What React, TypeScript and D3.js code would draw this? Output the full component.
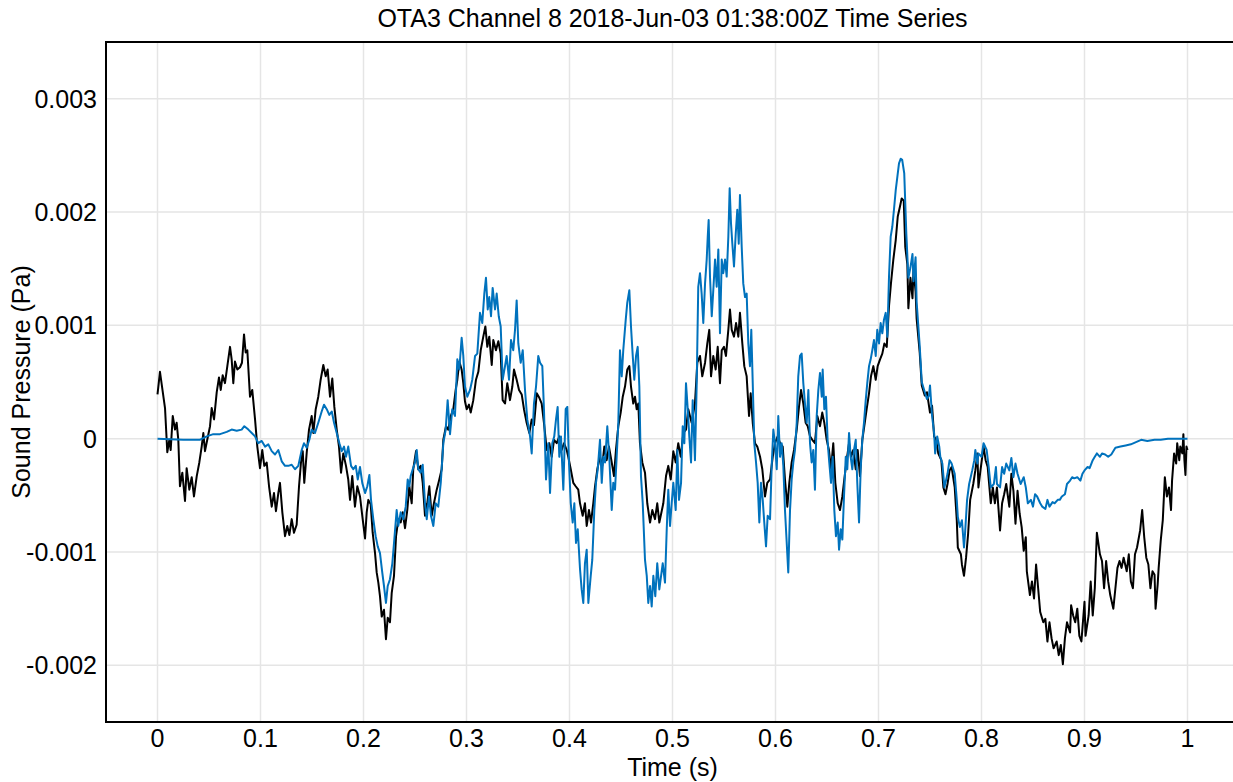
import React from "react";
import * as d3 from "d3";

// Hydrophone record: time (s) and sound pressure (mPa) vertices
const rawPressureMilliPa: [number, number][] = [
  [0.0, 0.39], [0.0024, 0.59], [0.005, 0.42], [0.0073, 0.27], [0.0095, -0.12], [0.0115, -0.01], [0.0128, -0.1],
  [0.0148, 0.2], [0.017, 0.08], [0.0186, 0.14], [0.0202, -0.01], [0.0218, -0.42], [0.0241, -0.3], [0.0267, -0.55],
  [0.0283, -0.26], [0.0309, -0.45], [0.0332, -0.34], [0.0354, -0.51], [0.0381, -0.33], [0.0406, -0.21], [0.0429, -0.07],
  [0.0445, 0.05], [0.0461, -0.11], [0.0483, -0.01], [0.051, 0.11], [0.0526, 0.27], [0.0549, 0.17], [0.0575, 0.41],
  [0.0597, 0.54], [0.0614, 0.43], [0.0633, 0.56], [0.0655, 0.49], [0.0678, 0.64], [0.0704, 0.81], [0.072, 0.7],
  [0.0736, 0.49], [0.0752, 0.68], [0.0775, 0.61], [0.0801, 0.63], [0.082, 0.67], [0.084, 0.92], [0.0856, 0.76],
  [0.0872, 0.78], [0.0898, 0.37], [0.092, 0.43], [0.0947, 0.17], [0.0969, -0.07], [0.0995, -0.26], [0.1017, -0.1],
  [0.1037, -0.24], [0.106, -0.21], [0.1083, -0.42], [0.1109, -0.6], [0.1131, -0.48], [0.115, -0.64], [0.1173, -0.48],
  [0.1189, -0.39], [0.1212, -0.65], [0.1238, -0.86], [0.126, -0.77], [0.128, -0.85], [0.1303, -0.71], [0.1325, -0.83],
  [0.1351, -0.76], [0.1374, -0.42], [0.1393, -0.21], [0.141, -0.11], [0.1425, -0.39], [0.1449, -0.12], [0.1471, 0.08],
  [0.1497, 0.2], [0.1513, 0.05], [0.1536, 0.26], [0.1561, 0.37], [0.1584, 0.52], [0.161, 0.65], [0.1633, 0.55],
  [0.1652, 0.61], [0.1675, 0.37], [0.1697, 0.53], [0.1717, 0.28], [0.174, 0.08], [0.1762, -0.07], [0.1782, -0.3],
  [0.1804, -0.13], [0.183, -0.24], [0.1852, -0.36], [0.1869, -0.54], [0.1891, -0.33], [0.1917, -0.6], [0.194, -0.42],
  [0.1966, -0.51], [0.1992, -0.71], [0.2015, -0.88], [0.2031, -0.65], [0.2047, -0.54], [0.207, -0.58], [0.2089, -0.83],
  [0.2112, -1.01], [0.2128, -1.18], [0.2144, -1.27], [0.216, -1.39], [0.2177, -1.57], [0.2199, -1.51], [0.2218, -1.77],
  [0.2235, -1.58], [0.2257, -1.62], [0.2274, -1.36], [0.2296, -1.21], [0.2316, -0.86], [0.2338, -0.71], [0.2361, -0.74],
  [0.2381, -0.65], [0.2403, -0.79], [0.2425, -0.63], [0.2445, -0.42], [0.2468, -0.57], [0.2483, -0.27], [0.251, -0.11],
  [0.2532, -0.27], [0.2555, -0.24], [0.2575, -0.39], [0.2597, -0.68], [0.2619, -0.57], [0.2639, -0.42], [0.2662, -0.68],
  [0.2684, -0.57], [0.2711, -0.45], [0.2736, -0.36], [0.2759, -0.27], [0.2775, -0.01], [0.2801, 0.11], [0.2823, 0.08],
  [0.2847, 0.2], [0.2872, 0.26], [0.2895, 0.43], [0.2911, 0.52], [0.293, 0.68], [0.2953, 0.61], [0.2969, 0.49],
  [0.2985, 0.33], [0.3002, 0.26], [0.3024, 0.3], [0.3041, 0.23], [0.3066, 0.34], [0.3092, 0.52], [0.3115, 0.59],
  [0.3138, 0.78], [0.3163, 0.9], [0.3183, 0.99], [0.3202, 0.81], [0.3221, 0.9], [0.3245, 0.65], [0.326, 0.87],
  [0.3286, 0.78], [0.3309, 0.86], [0.3332, 0.75], [0.3351, 0.34], [0.3374, 0.31], [0.3396, 0.49], [0.3422, 0.34],
  [0.3445, 0.46], [0.3461, 0.61], [0.3487, 0.52], [0.351, 0.43], [0.3536, 0.39], [0.3558, 0.26], [0.3584, 0.14],
  [0.361, 0.05], [0.3633, 0.17], [0.3655, 0.12], [0.3682, 0.4], [0.3707, 0.36], [0.373, 0.31], [0.3752, 0.14],
  [0.3779, -0.1], [0.3804, -0.04], [0.3827, -0.16], [0.385, -0.01], [0.3876, -0.04], [0.3901, 0.02], [0.3924, -0.1],
  [0.3947, -0.04], [0.3973, -0.1], [0.3988, -0.16], [0.4012, -0.27], [0.4037, -0.39], [0.406, -0.42], [0.4085, -0.45],
  [0.4102, -0.57], [0.4128, -0.68], [0.415, -0.57], [0.4167, -0.77], [0.4189, -0.63], [0.4209, -0.74], [0.4231, -0.57],
  [0.4248, -0.42], [0.427, -0.27], [0.4296, -0.16], [0.4318, -0.24], [0.4338, -0.07], [0.4361, -0.19], [0.4383, -0.07],
  [0.441, -0.21], [0.4432, -0.33], [0.4451, -0.1], [0.4474, 0.11], [0.4497, 0.23], [0.4517, 0.37], [0.4539, 0.46],
  [0.4561, 0.61], [0.4581, 0.64], [0.4597, 0.46], [0.4619, 0.31], [0.4636, 0.37], [0.4652, 0.26], [0.4668, 0.31],
  [0.4684, -0.04], [0.4707, -0.21], [0.4733, -0.3], [0.4755, -0.57], [0.4782, -0.74], [0.4804, -0.63], [0.483, -0.71],
  [0.4852, -0.57], [0.4872, -0.74], [0.4911, -0.57], [0.4937, -0.33], [0.4959, -0.24], [0.4983, -0.36], [0.5008, -0.11],
  [0.5031, -0.21], [0.5056, -0.04], [0.508, -0.16], [0.5105, 0.05], [0.5131, 0.08], [0.5153, 0.26], [0.5186, 0.14],
  [0.5218, 0.31], [0.5241, 0.67], [0.5267, 0.73], [0.5289, 0.55], [0.5316, 0.67], [0.5338, 0.84], [0.5357, 0.96],
  [0.5374, 0.55], [0.5396, 0.73], [0.5419, 0.61], [0.5439, 0.81], [0.5461, 0.49], [0.5478, 0.78], [0.55, 0.81],
  [0.5519, 0.73], [0.5542, 0.96], [0.5558, 1.14], [0.5575, 0.96], [0.5597, 0.9], [0.5617, 1.02], [0.5639, 0.9],
  [0.5655, 1.11], [0.5678, 0.84], [0.5697, 0.64], [0.572, 0.55], [0.5743, 0.2], [0.5759, 0.4], [0.5779, 0.14],
  [0.5801, -0.04], [0.5823, -0.07], [0.585, -0.16], [0.5872, -0.27], [0.5898, -0.51], [0.592, -0.39], [0.5947, -0.36],
  [0.5973, -0.16], [0.5995, -0.04], [0.6021, 0.02], [0.6044, -0.04], [0.607, -0.07], [0.6092, -0.36], [0.6115, -0.6],
  [0.6134, -0.39], [0.6157, -0.21], [0.618, -0.1], [0.6206, 0.08], [0.6228, 0.28], [0.6248, 0.43], [0.627, 0.31],
  [0.6293, 0.14], [0.6313, 0.11], [0.6335, 0.02], [0.6357, -0.01], [0.6383, -0.04], [0.6406, 0.2], [0.6432, 0.11],
  [0.6454, 0.23], [0.6474, 0.14], [0.6497, -0.01], [0.6519, -0.1], [0.6539, -0.27], [0.6561, -0.04], [0.6581, -0.39],
  [0.6604, -0.57], [0.6626, -0.63], [0.6649, -0.51], [0.6668, -0.36], [0.6691, -0.19], [0.6714, -0.04], [0.6733, -0.16],
  [0.6755, -0.1], [0.6779, -0.27], [0.6798, -0.1], [0.682, -0.33], [0.6843, -0.01], [0.6862, 0.11], [0.6885, 0.26],
  [0.6908, 0.4], [0.6927, 0.55], [0.695, 0.64], [0.6973, 0.52], [0.6992, 0.64], [0.7015, 0.7], [0.7037, 0.75],
  [0.7057, 0.84], [0.708, 0.81], [0.7102, 1.17], [0.7121, 1.37], [0.7144, 1.58], [0.7167, 1.75], [0.7187, 1.96],
  [0.7209, 2.05], [0.7225, 2.12], [0.7245, 2.1], [0.726, 1.69], [0.728, 1.54], [0.729, 1.15], [0.731, 1.42],
  [0.733, 1.24], [0.734, 1.5], [0.736, 1.3], [0.737, 1.06], [0.74, 0.76], [0.742, 0.47], [0.745, 0.38], [0.747, 0.41],
  [0.75, 0.23], [0.752, 0.29], [0.754, 0.02], [0.756, -0.01], [0.758, -0.13], [0.761, -0.19], [0.763, -0.43],
  [0.765, -0.49], [0.767, -0.4], [0.769, -0.28], [0.771, -0.25], [0.774, -0.43], [0.776, -0.72], [0.777, -0.96],
  [0.78, -1.02], [0.781, -1.11], [0.783, -1.21], [0.785, -1.05], [0.787, -0.84], [0.789, -0.54], [0.792, -0.4],
  [0.794, -0.28], [0.796, -0.13], [0.797, -0.43], [0.799, -0.28], [0.802, -0.07], [0.804, -0.19], [0.806, -0.25],
  [0.809, -0.57], [0.811, -0.43], [0.813, -0.57], [0.815, -0.43], [0.818, -0.81], [0.82, -0.57], [0.822, -0.49],
  [0.824, -0.4], [0.827, -0.6], [0.829, -0.31], [0.831, -0.46], [0.833, -0.75], [0.835, -0.46], [0.837, -0.66],
  [0.839, -0.78], [0.841, -0.99], [0.843, -0.87], [0.844, -1.17], [0.847, -1.38], [0.849, -1.26], [0.851, -1.41],
  [0.853, -1.11], [0.855, -1.32], [0.857, -1.53], [0.86, -1.62], [0.862, -1.59], [0.864, -1.79], [0.866, -1.62],
  [0.868, -1.76], [0.87, -1.85], [0.873, -1.79], [0.875, -1.91], [0.877, -1.82], [0.879, -1.99], [0.881, -1.76],
  [0.883, -1.62], [0.886, -1.71], [0.887, -1.47], [0.889, -1.56], [0.891, -1.62], [0.893, -1.5], [0.895, -1.74],
  [0.897, -1.79], [0.9, -1.44], [0.901, -1.74], [0.904, -1.56], [0.906, -1.26], [0.908, -1.56], [0.91, -1.32],
  [0.912, -0.83], [0.915, -1.02], [0.917, -1.08], [0.919, -1.32], [0.921, -1.08], [0.923, -1.26], [0.925, -1.38],
  [0.928, -1.5], [0.93, -1.32], [0.932, -1.14], [0.934, -1.08], [0.936, -1.14], [0.938, -1.05], [0.941, -1.17],
  [0.943, -1.02], [0.945, -1.26], [0.947, -1.32], [0.949, -1.02], [0.951, -0.96], [0.954, -0.81], [0.956, -0.63],
  [0.958, -0.87], [0.96, -1.05], [0.962, -1.11], [0.964, -1.32], [0.966, -1.17], [0.968, -1.2], [0.969, -1.5],
  [0.971, -1.29], [0.972, -1.14], [0.974, -0.9], [0.976, -0.72], [0.978, -0.34], [0.98, -0.51], [0.982, -0.43],
  [0.984, -0.63], [0.985, -0.37], [0.987, -0.13], [0.989, -0.22], [0.99, -0.04], [0.992, -0.19], [0.993, -0.07],
  [0.995, -0.13], [0.996, 0.04], [0.997, -0.19], [0.998, -0.32], [0.999, -0.07], [1.0, -0.1],
];

const filteredPressureMilliPa: [number, number][] = [
  [0.0, 0.0], [0.025, -0.01], [0.041, -0.01], [0.0478, 0.02], [0.0542, 0.04], [0.0607, 0.04], [0.0672, 0.06],
  [0.072, 0.08], [0.0769, 0.07], [0.0817, 0.08], [0.0843, 0.11], [0.0882, 0.08], [0.0915, 0.05], [0.0947, 0.02],
  [0.0979, -0.04], [0.1012, -0.02], [0.1044, -0.07], [0.1076, -0.05], [0.1109, -0.11], [0.1141, -0.14], [0.1173, -0.1],
  [0.1206, -0.2], [0.1238, -0.24], [0.127, -0.24], [0.1303, -0.23], [0.1335, -0.27], [0.1367, -0.24], [0.14, -0.1],
  [0.1422, -0.04], [0.1449, -0.08], [0.1474, -0.01], [0.1497, 0.08], [0.1529, 0.05], [0.1561, 0.14], [0.1594, 0.24],
  [0.1617, 0.3], [0.1643, 0.26], [0.1668, 0.21], [0.1692, 0.24], [0.1714, 0.14], [0.174, 0.05], [0.1766, -0.04],
  [0.1789, -0.11], [0.1811, -0.07], [0.183, -0.16], [0.1852, -0.07], [0.1879, -0.24], [0.1901, -0.27], [0.1925, -0.24],
  [0.1944, -0.36], [0.1966, -0.25], [0.1988, -0.39], [0.2015, -0.48], [0.2037, -0.42], [0.2057, -0.32], [0.2073, -0.54],
  [0.2095, -0.71], [0.2118, -0.86], [0.2138, -0.95], [0.216, -1.01], [0.2182, -1.18], [0.2199, -1.3], [0.2218, -1.45],
  [0.2235, -1.3], [0.2257, -1.24], [0.228, -1.1], [0.2299, -0.89], [0.2322, -0.63], [0.2338, -0.77], [0.2361, -0.65],
  [0.2386, -0.71], [0.241, -0.6], [0.2429, -0.36], [0.2445, -0.42], [0.2458, -0.33], [0.2478, -0.27], [0.25, -0.21],
  [0.2517, -0.1], [0.2532, -0.27], [0.2555, -0.3], [0.2575, -0.23], [0.2597, -0.57], [0.2614, -0.71], [0.2636, -0.51],
  [0.2655, -0.68], [0.2678, -0.77], [0.2701, -0.57], [0.2726, -0.6], [0.275, -0.39], [0.2775, -0.04], [0.2798, 0.08],
  [0.2817, 0.34], [0.284, 0.04], [0.2862, 0.26], [0.2888, 0.2], [0.2911, 0.7], [0.293, 0.61], [0.2953, 0.89],
  [0.2969, 0.73], [0.2985, 0.46], [0.3008, 0.37], [0.3034, 0.43], [0.3056, 0.52], [0.3083, 0.73], [0.3105, 0.75],
  [0.3131, 1.11], [0.3153, 1.02], [0.3173, 1.28], [0.3189, 1.42], [0.3206, 1.14], [0.3221, 1.25], [0.3238, 1.08],
  [0.3254, 1.33], [0.3277, 1.14], [0.3293, 1.28], [0.3313, 1.08], [0.3332, 0.99], [0.3351, 0.52], [0.3374, 0.64],
  [0.339, 0.73], [0.3413, 0.52], [0.3432, 0.87], [0.3454, 0.78], [0.3471, 0.96], [0.3487, 1.22], [0.3503, 0.84],
  [0.3526, 0.67], [0.3546, 0.78], [0.3568, 0.43], [0.359, 0.17], [0.3617, 0.02], [0.3633, -0.13], [0.3655, 0.31],
  [0.3675, 0.46], [0.3697, 0.73], [0.3714, 0.67], [0.3736, 0.64], [0.3752, 0.26], [0.3772, -0.36], [0.3794, -0.04],
  [0.3811, -0.48], [0.3833, -0.04], [0.3852, 0.02], [0.3869, 0.17], [0.3885, 0.28], [0.3901, -0.16], [0.3917, 0.02],
  [0.394, -0.45], [0.3963, 0.26], [0.3979, 0.28], [0.3995, -0.21], [0.4012, -0.57], [0.4031, -0.74], [0.4047, -0.57],
  [0.4063, -0.92], [0.408, -0.8], [0.4102, -1.15], [0.4118, -1.33], [0.4134, -1.45], [0.415, -1.1], [0.4167, -0.98],
  [0.4183, -1.45], [0.4206, -1.21], [0.4221, -1.07], [0.4241, -0.63], [0.4257, -0.39], [0.4274, -0.27], [0.4296, -0.01],
  [0.4313, -0.39], [0.4328, -0.16], [0.4345, -0.21], [0.4367, 0.11], [0.4386, -0.16], [0.441, -0.63], [0.4425, -0.39],
  [0.4442, -0.45], [0.4458, -0.16], [0.4474, 0.14], [0.449, 0.78], [0.4507, 0.55], [0.4522, 0.78], [0.4546, 1.05],
  [0.4561, 1.2], [0.4581, 1.31], [0.4597, 0.99], [0.4614, 0.73], [0.4629, 0.52], [0.4646, 0.73], [0.4662, 0.81],
  [0.4678, 0.46], [0.4694, -0.33], [0.4711, -0.57], [0.4733, -1.07], [0.475, -1.21], [0.4765, -1.45], [0.4782, -1.3],
  [0.4798, -1.48], [0.4814, -1.21], [0.4833, -1.39], [0.4852, -1.1], [0.4872, -1.33], [0.4905, -1.1], [0.4927, -1.27],
  [0.4944, -0.8], [0.4959, -0.45], [0.4976, -0.77], [0.4992, -0.57], [0.5008, -0.39], [0.5031, -0.63], [0.5047, -0.1],
  [0.5063, -0.54], [0.5083, -0.39], [0.5099, 0.11], [0.5115, -0.04], [0.5131, 0.49], [0.5148, 0.26], [0.5163, 0.02],
  [0.518, -0.21], [0.5196, 0.34], [0.5218, -0.19], [0.5235, 0.49], [0.525, 1.34], [0.5267, 1.46], [0.5283, 1.28],
  [0.5299, 1.02], [0.5316, 1.37], [0.5332, 1.58], [0.5342, 1.78], [0.5351, 1.93], [0.5364, 1.43], [0.5381, 1.08],
  [0.5396, 1.31], [0.5413, 1.58], [0.5429, 1.34], [0.5445, 1.67], [0.5461, 0.93], [0.5478, 1.58], [0.5493, 1.46],
  [0.551, 1.58], [0.5526, 1.43], [0.5542, 1.78], [0.5555, 2.21], [0.5568, 1.9], [0.5581, 1.72], [0.5597, 1.52],
  [0.5614, 1.81], [0.5629, 2.02], [0.5643, 1.72], [0.5655, 2.15], [0.5672, 1.69], [0.5687, 1.37], [0.5704, 1.25],
  [0.572, 1.28], [0.5736, 0.84], [0.5752, 0.64], [0.5765, 0.96], [0.5779, 0.49], [0.5794, -0.04], [0.5811, -0.21],
  [0.5827, -0.39], [0.5843, -0.74], [0.5859, -0.39], [0.5876, -0.54], [0.5891, -0.74], [0.5908, -0.95], [0.5924, -0.68],
  [0.5947, -0.71], [0.5963, -0.24], [0.5979, 0.08], [0.5995, -0.04], [0.6012, -0.27], [0.6027, 0.2], [0.6044, -0.16],
  [0.606, -0.04], [0.6076, -0.24], [0.6092, -0.63], [0.6109, -0.92], [0.6124, -1.18], [0.6141, -0.63], [0.6157, -0.36],
  [0.6173, -0.21], [0.6189, -0.1], [0.6206, 0.14], [0.6221, 0.55], [0.6238, 0.73], [0.6254, 0.75], [0.627, 0.49],
  [0.6286, 0.31], [0.6303, 0.14], [0.6319, 0.43], [0.6335, -0.04], [0.6351, -0.21], [0.6367, -0.1], [0.6383, -0.45],
  [0.64, 0.2], [0.6416, 0.43], [0.6432, 0.58], [0.6449, 0.37], [0.6458, 0.61], [0.6474, 0.26], [0.649, 0.37],
  [0.6507, -0.04], [0.6522, -0.21], [0.6539, -0.39], [0.6555, -0.16], [0.6571, -0.63], [0.6587, -0.86], [0.6604, -0.74],
  [0.6617, -0.98], [0.6633, -0.8], [0.6649, -0.89], [0.6665, -0.51], [0.6682, -0.16], [0.6697, -0.27], [0.6714, 0.05],
  [0.673, -0.16], [0.6746, -0.27], [0.6762, -0.1], [0.6779, -0.01], [0.6794, -0.39], [0.6811, -0.74], [0.6827, -0.27],
  [0.6843, -0.01], [0.6859, 0.14], [0.6876, 0.34], [0.6891, 0.49], [0.6908, 0.64], [0.6924, 0.7], [0.694, 0.78],
  [0.6956, 0.87], [0.6973, 0.73], [0.6988, 0.96], [0.7005, 0.84], [0.7021, 1.02], [0.7037, 0.93], [0.7053, 1.05],
  [0.707, 1.11], [0.7086, 0.9], [0.7102, 1.43], [0.7118, 1.78], [0.7134, 1.87], [0.715, 2.02], [0.7167, 2.19],
  [0.7183, 2.31], [0.7199, 2.43], [0.7216, 2.47], [0.723, 2.46], [0.725, 2.34], [0.727, 1.81], [0.729, 1.42],
  [0.731, 1.51], [0.733, 1.63], [0.734, 1.39], [0.736, 1.6], [0.737, 1.21], [0.74, 0.82], [0.742, 0.5], [0.745, 0.41],
  [0.747, 0.35], [0.749, 0.38], [0.75, 0.47], [0.752, 0.2], [0.754, 0.05], [0.755, -0.13], [0.757, 0.02], [0.759, -0.07],
  [0.76, -0.16], [0.762, -0.22], [0.764, -0.43], [0.767, -0.31], [0.769, -0.19], [0.771, -0.22], [0.774, -0.31],
  [0.776, -0.54], [0.777, -0.69], [0.779, -0.78], [0.781, -0.72], [0.783, -0.96], [0.784, -0.84], [0.786, -0.54],
  [0.788, -0.4], [0.791, -0.28], [0.793, -0.19], [0.794, -0.1], [0.796, -0.22], [0.797, -0.13], [0.8, -0.16],
  [0.802, -0.04], [0.805, -0.1], [0.807, -0.25], [0.809, -0.43], [0.812, -0.4], [0.814, -0.25], [0.815, -0.4],
  [0.818, -0.43], [0.82, -0.25], [0.822, -0.31], [0.824, -0.22], [0.827, -0.28], [0.829, -0.17], [0.831, -0.34],
  [0.833, -0.22], [0.835, -0.31], [0.838, -0.4], [0.841, -0.34], [0.843, -0.43], [0.845, -0.57], [0.848, -0.54],
  [0.85, -0.6], [0.852, -0.49], [0.854, -0.51], [0.857, -0.57], [0.859, -0.6], [0.862, -0.62], [0.864, -0.54],
  [0.866, -0.6], [0.869, -0.56], [0.871, -0.57], [0.874, -0.54], [0.876, -0.54], [0.878, -0.51], [0.881, -0.49],
  [0.883, -0.4], [0.886, -0.37], [0.888, -0.34], [0.89, -0.35], [0.893, -0.34], [0.896, -0.37], [0.898, -0.31],
  [0.9, -0.28], [0.903, -0.25], [0.905, -0.26], [0.908, -0.19], [0.91, -0.16], [0.912, -0.13], [0.915, -0.16],
  [0.917, -0.13], [0.92, -0.14], [0.923, -0.16], [0.926, -0.14], [0.93, -0.08], [0.935, -0.07], [0.94, -0.06],
  [0.945, -0.05], [0.95, -0.03], [0.955, -0.01], [0.961, -0.02], [0.968, -0.01], [0.974, -0.01], [0.981, 0.0],
  [0.99, 0.0], [1.0, 0.0],
];

const timeTicks = [0, 0.1, 0.2, 0.3, 0.4, 0.5, 0.6, 0.7, 0.8, 0.9, 1];
const timeTickLabels = ["0", "0.1", "0.2", "0.3", "0.4", "0.5", "0.6", "0.7", "0.8", "0.9", "1"];
const pressureTicks = [-0.002, -0.001, 0, 0.001, 0.002, 0.003];
const pressureTickLabels = ["-0.002", "-0.001", "0", "0.001", "0.002", "0.003"];

const TITLE = "OTA3 Channel 8 2018-Jun-03 01:38:00Z Time Series";
const X_LABEL = "Time (s)";
const Y_LABEL = "Sound Pressure (Pa)";

const W = 1233;
const H = 782;
const plot = { left: 106, right: 1239, top: 42, bottom: 722 };
const FONT = "'Liberation Sans', Arial, Helvetica, sans-serif";
const FONT_SIZE = 25;

export default function App() {
  const x = d3.scaleLinear().domain([-0.05, 1.05]).range([plot.left, plot.right]);
  const y = d3.scaleLinear().domain([-0.0025, 0.0035]).range([plot.bottom, plot.top]);

  const line = d3
    .line<[number, number]>()
    .x((d) => x(d[0]))
    .y((d) => y(d[1] * 1e-3));

  const midX = (plot.left + plot.right) / 2;
  const midY = (plot.top + plot.bottom) / 2;

  return (
    <svg
      width={W}
      height={H}
      style={{ position: "absolute", left: 0, top: 0, background: "#fff" }}
      fontFamily={FONT}
    >
      <defs>
        <clipPath id="plot-area">
          <rect x={plot.left} y={plot.top} width={plot.right - plot.left} height={plot.bottom - plot.top} />
        </clipPath>
      </defs>

      {/* grid */}
      <g stroke="#e5e5e5" strokeWidth={1.5}>
        {timeTicks.map((t) => (
          <line key={`gx${t}`} x1={x(t)} x2={x(t)} y1={plot.top} y2={plot.bottom} />
        ))}
        {pressureTicks.map((p) => (
          <line key={`gy${p}`} x1={plot.left} x2={plot.right} y1={y(p)} y2={y(p)} />
        ))}
      </g>

      {/* traces */}
      <g clipPath="url(#plot-area)" fill="none" strokeLinejoin="round" strokeWidth={2}>
        <path d={line(rawPressureMilliPa) ?? ""} stroke="#000000" />
        <path d={line(filteredPressureMilliPa) ?? ""} stroke="#0072bd" />
      </g>

      {/* axes frame */}
      <g stroke="#000" strokeWidth={2} fill="none">
        <line x1={plot.left} x2={plot.left} y1={plot.top - 1} y2={plot.bottom + 1} />
        <line x1={plot.left - 1} x2={plot.right} y1={plot.bottom} y2={plot.bottom} />
        <line x1={plot.left - 1} x2={plot.right} y1={plot.top} y2={plot.top} />
      </g>

      {/* tick labels */}
      <g fontSize={FONT_SIZE} fill="#000">
        {timeTicks.map((t, i) => (
          <text key={`tx${t}`} x={x(t)} y={plot.bottom + 25} textAnchor="middle">
            {timeTickLabels[i]}
          </text>
        ))}
        {pressureTicks.map((p, i) => (
          <text key={`ty${p}`} x={plot.left - 9} y={y(p) + 9} textAnchor="end">
            {pressureTickLabels[i]}
          </text>
        ))}
      </g>

      {/* titles */}
      <text x={midX} y={27} textAnchor="middle" fontSize={FONT_SIZE} fill="#000">
        {TITLE}
      </text>
      <text x={midX} y={776} textAnchor="middle" fontSize={FONT_SIZE} fill="#000">
        {X_LABEL}
      </text>
      <text
        transform={`translate(30,${midY}) rotate(-90)`}
        textAnchor="middle"
        fontSize={FONT_SIZE}
        fill="#000"
      >
        {Y_LABEL}
      </text>
    </svg>
  );
}
